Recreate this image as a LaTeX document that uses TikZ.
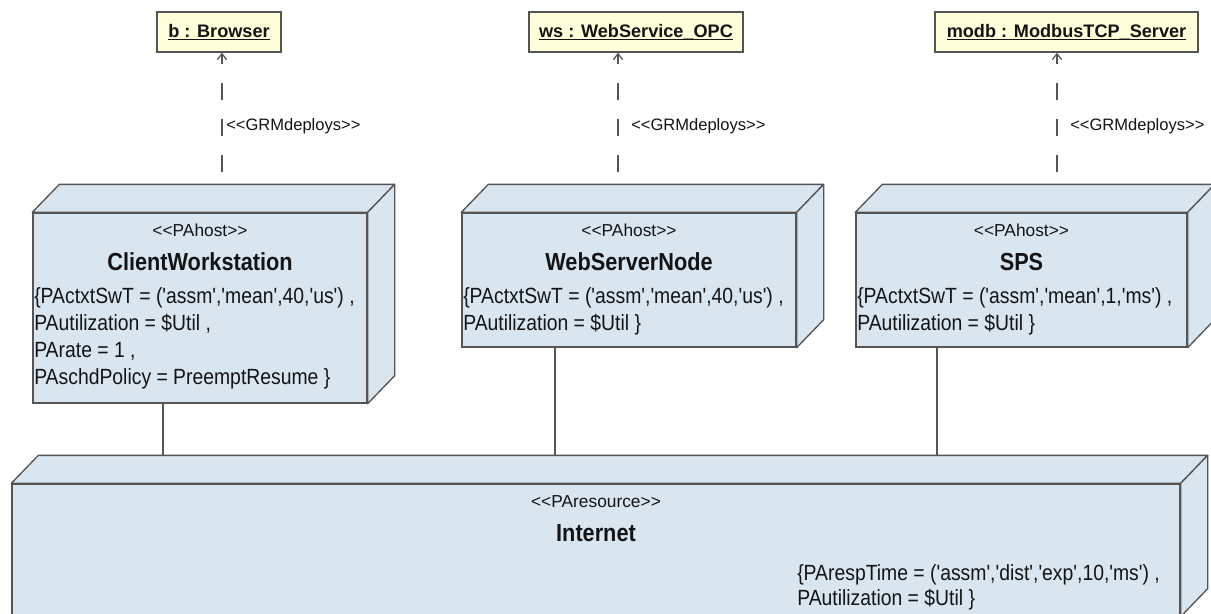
\documentclass[tikz,border=0pt]{standalone}
\usepackage{fontspec}
\newfontfamily\umlfont{Liberation Sans}
\newfontfamily\umlcond{Liberation Sans}[FakeStretch=0.88]
\usetikzlibrary{arrows.meta}

\definecolor{nodefill}{RGB}{217,230,240}
\definecolor{artfill}{RGB}{255,255,220}
\definecolor{edgegray}{RGB}{85,85,85}
\definecolor{ink}{RGB}{20,20,20}

% underline that sits on the underscore level
\newcommand\ulabel[1]{\setbox0\hbox{#1}\rlap{\rule[-2.2pt]{\wd0}{0.9pt}}\box0}

% top and right faces of a UML deployment node drawn around its front face
\newcommand\cubefaces[1]{%
  \path[umlside] (#1.north west) -- ++(27,-28) -- ([shift={(27,-28)}]#1.north east)
        -- (#1.north east) -- cycle;
  \path[umlside] (#1.north east) -- ++(27,-28) -- ([shift={(27,-28)}]#1.south east)
        -- (#1.south east) -- cycle;
}

\tikzset{
  every node/.style={font=\umlfont, text=ink},
  umlfront/.style={draw=edgegray, line width=1pt, fill=nodefill, inner sep=0pt},
  umlside/.style={draw=edgegray, line width=1pt, fill=nodefill, line join=round},
  artbox/.style={draw=edgegray, line width=1pt, fill=artfill, inner sep=0pt,
    minimum height=30pt, font=\umlfont\fontsize{13.6}{16}\selectfont\bfseries},
  stereo/.style={font=\umlfont\fontsize{13}{15}\selectfont, inner sep=0pt},
  nodetitle/.style={font=\umlcond\fontsize{18.5}{22}\selectfont\bfseries, inner sep=0pt},
  attrs/.style={font=\umlcond\fontsize{16.5}{20.25}\selectfont, align=left,
    inner sep=0pt, anchor=north west},
  netattrs/.style={attrs, font=\umlcond\fontsize{16.5}{18.75}\selectfont},
  deplabel/.style={font=\umlfont\fontsize{12.4}{14}\selectfont, inner sep=0pt, anchor=west},
  deploy/.style={draw=edgegray, line width=0.9pt,
    dash pattern=on 12.75pt off 14.25pt, dash phase=18pt,
    -{Straight Barb[length=4.5pt,width=7pt]}},
  assoc/.style={draw=edgegray, line width=0.9pt},
}

\begin{document}
\begin{tikzpicture}[x=0.75pt, y=-0.75pt]
\useasboundingbox (0,0) rectangle (1211,614);
\fill[white] (0,0) rectangle (1211,614);

% deployed artifacts
\node[artbox, minimum width=93pt]     (br)   at (219,32)    {\ulabel{b : Browser}};
\node[artbox, minimum width=160.5pt]  (ws)   at (636,32)    {\ulabel{ws : WebService\_OPC}};
\node[artbox, minimum width=197.25pt] (modb) at (1066.5,32) {\ulabel{modb : ModbusTCP\_Server}};

% processing nodes (front faces)
\node[umlfront, minimum width=250.5pt, minimum height=142.5pt]  (cw)   at (200,308)   {};
\node[umlfront, minimum width=250.5pt, minimum height=100.5pt]  (wsn)  at (629,280)   {};
\node[umlfront, minimum width=248.25pt, minimum height=100.5pt] (sps)  at (1021.5,280) {};
\node[umlfront, minimum width=876pt, minimum height=99pt]       (inet) at (596,550)   {};
\cubefaces{cw}
\cubefaces{wsn}
\cubefaces{sps}
\cubefaces{inet}

% node contents
\node[stereo]    (cw-st)   at (200,230) {<<PAhost>>};
\node[nodetitle] (cw-name) at (200,262) {ClientWorkstation};
\node[attrs]     (cw-attr) at (34,287)
  {\{PActxtSwT = ('assm','mean',40,'us') ,\\PAutilization = \$Util ,\\PArate = 1 ,\\PAschdPolicy = PreemptResume \}};

\node[stereo]    (wsn-st)   at (629,230) {<<PAhost>>};
\node[nodetitle] (wsn-name) at (629,262) {WebServerNode};
\node[attrs]     (wsn-attr) at (463,287)
  {\{PActxtSwT = ('assm','mean',40,'us') ,\\PAutilization = \$Util \}};

\node[stereo]    (sps-st)   at (1021.5,230) {<<PAhost>>};
\node[nodetitle] (sps-name) at (1021.5,262) {SPS};
\node[attrs]     (sps-attr) at (857,287)
  {\{PActxtSwT = ('assm','mean',1,'ms') ,\\PAutilization = \$Util \}};

\node[stereo]    (inet-st)   at (596,502) {<<PAresource>>};
\node[nodetitle] (inet-name) at (596,533) {Internet};
\node[netattrs]  (inet-attr) at (797,564)
  {\{PArespTime = ('assm','dist','exp',10,'ms') ,\\PAutilization = \$Util \}};

% communication paths to the network
\coordinate (inet-back) at ([yshift=21pt]inet.north);
\coordinate (cw-link)  at ([xshift=-27.75pt]cw.south);
\coordinate (wsn-link) at ([xshift=-55.5pt]wsn.south);
\coordinate (sps-link) at ([xshift=-63.375pt]sps.south);
\draw[assoc] (cw-link)  -- (cw-link |- inet-back);
\draw[assoc] (wsn-link) -- (wsn-link |- inet-back);
\draw[assoc] (sps-link) -- (sps-link |- inet-back);

% deployment dependencies
\coordinate (cw-top)  at ([yshift=21pt]cw.north);
\coordinate (wsn-top) at ([yshift=21pt]wsn.north);
\coordinate (sps-top) at ([yshift=21pt]sps.north);
\coordinate (br-foot)   at ([xshift=2.25pt]br.south);
\coordinate (ws-foot)   at ([xshift=-13.5pt]ws.south);
\coordinate (modb-foot) at ([xshift=-7.125pt]modb.south);
\draw[deploy] (br-foot |- cw-top)    -- (br-foot);
\draw[deploy] (ws-foot |- wsn-top)   -- (ws-foot);
\draw[deploy] (modb-foot |- sps-top) -- (modb-foot);

\node[deplabel] (br-dep)   at (226,126)  {<<GRMdeploys>>};
\node[deplabel] (ws-dep)   at (631,126)  {<<GRMdeploys>>};
\node[deplabel] (modb-dep) at (1070,126) {<<GRMdeploys>>};
\end{tikzpicture}
\end{document}
